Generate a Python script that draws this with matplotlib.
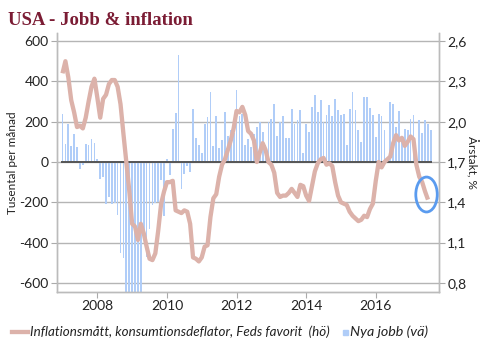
import matplotlib
matplotlib.use("Agg")
import matplotlib.pyplot as plt
from matplotlib.patches import Ellipse, Rectangle
from matplotlib.lines import Line2D
import numpy as np

# Monthly data, Jan 2007 onwards
jobs = [
    240, 88, 190, 78, 140, 74, -33, -17, 88, 83, 112, 96,            # 2007
    17, -83, -74, -207, -174, -210, -203, -264, -451, -474, -769, -695,  # 2008
    -791, -703, -823, -686, -350, -470, -330, -215, -205, -200, -90, -270,  # 2009
    17, -64, 165, 243, 529, -132, -60, -20, -50, 261, 119, 86,       # 2010
    45, 187, 223, 347, 78, 226, 71, 111, 248, 127, 160, 145,         # 2011
    359, 230, 240, 83, 116, 74, 140, 174, 198, 149, 83, 198,         # 2012
    215, 286, 127, 198, 226, 121, 121, 261, 190, 210, 256, 45,       # 2013
    190, 149, 273, 331, 248, 306, 198, 231, 281, 226, 314, 256,      # 2014
    235, 240, 86, 261, 347, 256, 160, 99, 322, 322, 269, 231,        # 2015
    124, 240, 226, 157, 8, 298, 289, 174, 251, 124, 162, 157,        # 2016
    215, 231, 41, 207, 144, 210, 187, 157,                           # 2017
]
pce = [
    2.36, 2.45, 2.33, 2.16, 2.07, 1.96, 1.97, 1.95, 2.03, 2.15, 2.26, 2.32,  # 2007
    2.18, 2.03, 2.17, 2.20, 2.28, 2.31, 2.31, 2.26, 2.13, 1.91, 1.70, 1.49,  # 2008
    1.24, 1.22, 1.12, 1.24, 1.17, 1.07, 0.98, 0.97, 1.02, 1.19, 1.39, 1.48,  # 2009
    1.55, 1.55, 1.56, 1.34, 1.33, 1.32, 1.34, 1.33, 1.24, 0.99, 0.98, 0.96,  # 2010
    0.99, 1.07, 1.08, 1.29, 1.43, 1.46, 1.59, 1.68, 1.72, 1.79, 1.86, 1.95,  # 2011
    2.08, 2.07, 2.11, 2.05, 1.93, 1.91, 1.86, 1.70, 1.77, 1.84, 1.79, 1.70,  # 2012
    1.68, 1.62, 1.47, 1.44, 1.45, 1.45, 1.47, 1.50, 1.47, 1.44, 1.53, 1.52,  # 2013
    1.45, 1.41, 1.52, 1.63, 1.69, 1.72, 1.73, 1.68, 1.69, 1.67, 1.55, 1.45,  # 2014
    1.40, 1.39, 1.38, 1.33, 1.30, 1.28, 1.26, 1.27, 1.30, 1.29, 1.35, 1.39,  # 2015
    1.56, 1.70, 1.66, 1.70, 1.72, 1.74, 1.84, 1.90, 1.86, 1.88, 1.82, 1.85,  # 2016
    1.89, 1.87, 1.68, 1.59, 1.55, 1.48, 1.42,                                 # 2017
]
year_ticks = [12, 36, 60, 84, 108]
year_labels = ["2008", "2010", "2012", "2014", "2016"]
left_ticks = [-600, -400, -200, 0, 200, 400, 600]
right_ticks = [0.8, 1.1, 1.4, 1.7, 2.0, 2.3, 2.6]
right_labels = ["0,8", "1,1", "1,4", "1,7", "2,0", "2,3", "2,6"]

W, H = 488, 358
fig = plt.figure(figsize=(W / 100, H / 100), dpi=100)
ax = fig.add_axes([57 / W, 66 / H, (439 - 57) / W, (292 - 33) / H])
ax2 = ax.twinx()

tick_font = "Lato"
bar_color = "#b0cdf8"
line_color = "#dcb2aa"
grid_color = "#b5b5b5"

x_jobs = np.arange(len(jobs))
x_pce = np.arange(len(pce))

ax.set_axisbelow(True)
ax.bar(x_jobs, jobs, width=0.6, color=bar_color, zorder=2)
ax.set_ylim(-645, 640)
ax.set_xlim(-1.9, 129.8)
ax.set_yticks(left_ticks)
ax.set_yticklabels([str(v) for v in left_ticks], fontfamily=tick_font, fontsize=10, color="#222222")
ax.yaxis.grid(True, color=grid_color, linewidth=1.0, zorder=0)
ax.hlines(0, -0.5, len(jobs) - 0.5, color="#555555", linewidth=1.4, zorder=3)
ax.set_xticks(year_ticks)
ax.set_xticklabels(year_labels, fontfamily=tick_font, fontsize=10, color="#222222")
ax.tick_params(axis="x", length=4, color="#aaaaaa", pad=2)
ax.tick_params(axis="y", length=4, color="#aaaaaa", pad=2)

ax2.plot(x_pce, pce, color=line_color, linewidth=3.1, solid_capstyle="butt", zorder=4)
ax2.set_ylim(1.7 - 645 * 0.0015, 1.7 + 640 * 0.0015)
ax2.set_yticks(right_ticks)
ax2.set_yticklabels(right_labels, fontfamily=tick_font, fontsize=10, color="#222222")
ax2.tick_params(axis="y", length=4, color="#aaaaaa", pad=2)

ell = Ellipse((125.5, 1.458), width=7.4, height=0.26, fill=False,
              edgecolor="#5a9bef", linewidth=2.0, zorder=5)
ax2.add_patch(ell)

for a in (ax, ax2):
    a.spines["top"].set_visible(False)
    for s in ("left", "right", "bottom"):
        a.spines[s].set_color("#bbbbbb")
        a.spines[s].set_linewidth(1.0)

ax.set_ylabel("Tusental per månad", fontfamily=tick_font, fontsize=8.5, color="#222222", labelpad=1)
ax2.set_ylabel("Årstakt, %", fontfamily=tick_font, fontsize=8.5, color="#222222",
               rotation=-90, labelpad=8)

fig.text(8 / W, 1 - 25 / H, "USA - Jobb & inflation", fontfamily="Liberation Serif",
         fontweight="bold", fontsize=13.5, color="#7b1c34", va="baseline", ha="left")

# legend
ly = 1 - 332 / H
fig.add_artist(Line2D([12 / W, 28 / W], [ly, ly], color=line_color, linewidth=3.1))
fig.text(30 / W, ly, "Inflationsmått, konsumtionsdeflator, Feds favorit  (hö)",
         fontfamily=tick_font, style="italic", fontsize=9.6, color="#222222", va="center", ha="left")
fig.add_artist(Rectangle((343 / W, ly - 2.5 / H), 5 / W, 5 / H, color=bar_color,
                         transform=fig.transFigure))
fig.text(350 / W, ly, "Nya jobb (vä)", fontfamily=tick_font, style="italic",
         fontsize=10.3, color="#222222", va="center", ha="left")

fig.savefig("out.png", dpi=100)
